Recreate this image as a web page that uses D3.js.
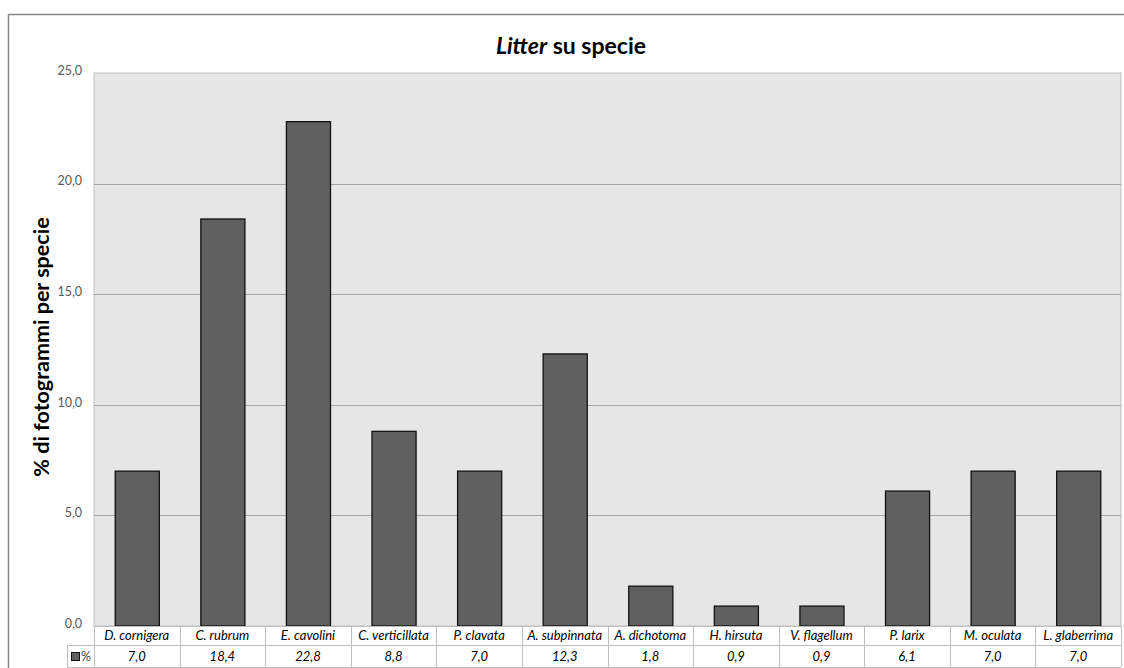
<!DOCTYPE html>
<html><head><meta charset="utf-8">
<script src="https://cdn.jsdelivr.net/npm/d3@7"></script>
<style>body{margin:0;background:#fff;}svg{display:block;font-family:Lato,"Open Sans",sans-serif;}</style>
</head><body>
<svg id="c" width="1124" height="668"></svg>
<script>
const categories = ["D. cornigera","C. rubrum","E. cavolini","C. verticillata","P. clavata","A. subpinnata","A. dichotoma","H. hirsuta","V. flagellum","P. larix","M. oculata","L. glaberrima"];
const values = [7.0,18.4,22.8,8.8,7.0,12.3,1.8,0.9,0.9,6.1,7.0,7.0];
const yTicks = [0,5,10,15,20,25];
const seriesName = "%";

const svg = d3.select("#c");
const fmt = v => v.toFixed(1).replace(".", ",");
const L = 94, R = 1121, T = 73, B = 626;
const row1 = 645, row2 = 667, legL = 67;

// outer frame
svg.append("rect").attr("x",8.5).attr("y",14.5).attr("width",1140).attr("height",700)
  .attr("fill","#fff").attr("stroke","#888").attr("stroke-width",1.5);

const x = d3.scaleBand().domain(categories).range([L,R]).paddingInner(0.485).paddingOuter(0.2425);
const y = d3.scaleLinear().domain([0,25]).range([B,T]);

// plot background
svg.append("rect").attr("x",L).attr("y",T).attr("width",R-L).attr("height",B-T)
  .attr("fill","#e6e6e6").attr("stroke","#c0c0c0").attr("stroke-width",1);

// gridlines
svg.append("g").selectAll("line").data(yTicks.filter(d=>d>0&&d<25)).join("line")
  .attr("x1",L).attr("x2",R).attr("y1",d=>Math.round(y(d))+0.5).attr("y2",d=>Math.round(y(d))+0.5)
  .attr("stroke","#a6a6a6").attr("stroke-width",1);

// y axis
const yAxis = d3.axisLeft(y).tickValues(yTicks).tickFormat(fmt).tickSize(0).tickPadding(12);
const ga = svg.append("g").attr("transform",`translate(${L},0)`).call(yAxis);
ga.select(".domain").remove();
ga.selectAll("text").attr("fill","#595959").attr("font-size",12.5).attr("font-family","Lato,sans-serif").attr("dy","0.1em");

// bars
svg.append("g").selectAll("rect").data(values).join("rect")
  .attr("x",(d,i)=>x(categories[i])+0.5).attr("width",x.bandwidth())
  .attr("y",d=>y(d)).attr("height",d=>y(0)-y(d))
  .attr("fill","#606060").attr("stroke","#111").attr("stroke-width",1.3);

// data table
const tg = svg.append("g");
const lc = "#bfbfbf";
tg.append("line").attr("x1",L).attr("x2",R).attr("y1",B+0.5).attr("y2",B+0.5).attr("stroke",lc);
tg.append("line").attr("x1",legL).attr("x2",R).attr("y1",row1+0.5).attr("y2",row1+0.5).attr("stroke",lc);
tg.append("line").attr("x1",legL).attr("x2",R).attr("y1",row2+0.5).attr("y2",row2+0.5).attr("stroke",lc);
tg.append("line").attr("x1",legL+0.5).attr("x2",legL+0.5).attr("y1",row1).attr("y2",row2).attr("stroke",lc);
const bounds = x.domain().map(c=>x(c)-x.step()*x.paddingInner()/2);
bounds.push(R);
tg.selectAll("line.v").data(bounds).join("line").attr("class","v")
  .attr("x1",d=>Math.round(d)+0.5).attr("x2",d=>Math.round(d)+0.5).attr("y1",B).attr("y2",row2).attr("stroke",lc);
tg.selectAll("text.cat").data(categories).join("text").attr("class","cat")
  .attr("x",d=>x(d)+x.bandwidth()/2).attr("y",(B+row1)/2+4.5)
  .attr("text-anchor","middle").attr("font-style","italic").attr("font-size",13).attr("fill","#000").text(d=>d);
tg.selectAll("text.val").data(values).join("text").attr("class","val")
  .attr("x",(d,i)=>x(categories[i])+x.bandwidth()/2).attr("y",(row1+row2)/2+5)
  .attr("text-anchor","middle").attr("font-style","italic").attr("font-size",13).attr("fill","#000").text(fmt);
// legend key
tg.append("rect").attr("x",71.5).attr("y",652.5).attr("width",8).attr("height",8)
  .attr("fill","#606060").attr("stroke","#111");
tg.append("text").attr("x",81).attr("y",661).attr("font-size",12.5).attr("fill","#404040").text(seriesName);

// title
const t = svg.append("text").attr("x",571).attr("y",54).attr("text-anchor","middle")
  .attr("font-size",23).attr("font-weight","bold").attr("fill","#000");
t.append("tspan").attr("font-style","italic").text("Litter");
t.append("tspan").text(" su specie");

// y title
svg.append("text").attr("transform","translate(49,347) rotate(-90)").attr("text-anchor","middle")
  .attr("font-size",21.5).attr("font-weight","bold").attr("fill","#000").text("% di fotogrammi per specie");
</script>
</body></html>
